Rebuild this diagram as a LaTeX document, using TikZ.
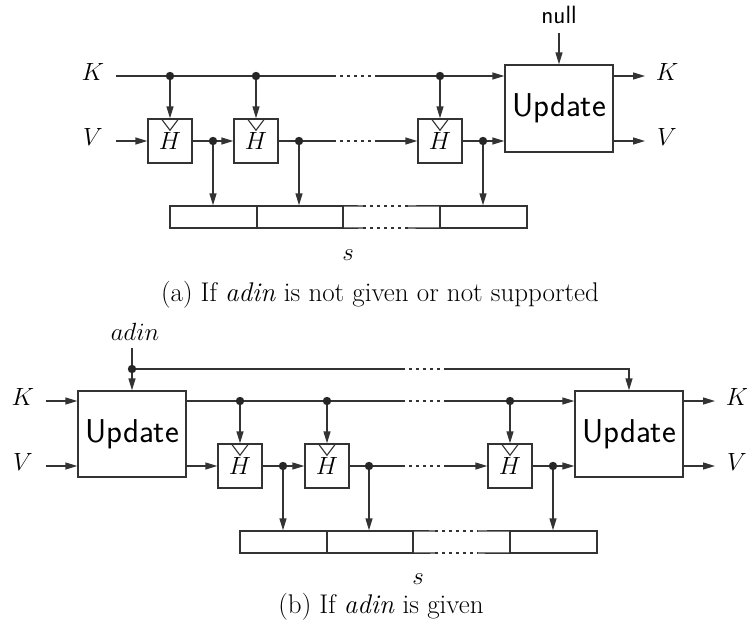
\documentclass[tikz,border=0pt]{standalone}
\usetikzlibrary{arrows.meta}
\begin{document}
\begin{tikzpicture}[x=1pt,y=-1pt,
  ln/.style={line width=1.4pt, draw=black!80},
  arr/.style={ln, -{Triangle[length=12pt,width=7pt]}},
  dsh/.style={ln, dash pattern=on 3pt off 4pt},
  hbox/.style={draw=black!80, line width=1.4pt, minimum width=44pt, minimum height=44pt, inner sep=0pt, font=\fontsize{27}{27}\selectfont},
  upd/.style={draw=black!80, line width=1.4pt, minimum width=108pt, minimum height=87pt, inner sep=0pt, font=\sffamily\fontsize{33}{33}\selectfont},
  cellbox/.style={draw=black!80, line width=1.4pt, minimum height=22pt, inner sep=0pt},
  cellopen/.style={minimum height=22pt, inner sep=0pt},
  lab/.style={font=\fontsize{25}{25}\selectfont, inner sep=0pt},
  slab/.style={font=\sffamily\fontsize{25}{25}\selectfont, inner sep=0pt},
  captext/.style={font=\fontsize{27}{27}\selectfont, inner sep=0pt},
  dotr/.style={fill=black!85}
]
\useasboundingbox (0,0) rectangle (747,629);

% ================= (a) =================
\node[lab] (Ka) at (93,72) {$K$};
\node[lab] (Va) at (93,137) {$V$};
\coordinate (Ka0) at (116,76);
\coordinate (Va0) at (116,141);
\node[hbox] (Ha1) at (170,141) {\raisebox{-3.5pt}{$H$}};
\node[hbox] (Ha2) at (256,141) {\raisebox{-3.5pt}{$H$}};
\node[hbox] (Ha3) at (440,141) {\raisebox{-3.5pt}{$H$}};
\node[upd] (Ua) at (559,108.5) {Update};
\node[slab] (nul) at (559,15) {null};
\coordinate (nul0) at (559,33);
\coordinate (ka1) at (170,76);
\coordinate (ka2) at (256,76);
\coordinate (ka3) at (440,76);
\coordinate (va1) at (213,141);
\coordinate (va2) at (299,141);
\coordinate (va3) at (483,141);
\coordinate (kda) at (333,76);
\coordinate (kdb) at (375,76);
\coordinate (vda) at (333,141);
\coordinate (vdb) at (375,141);
\coordinate (Koa) at (645,76);
\coordinate (Voa) at (645,141);
\node[lab] (Kouta) at (667,72) {$K$};
\node[lab] (Vouta) at (667,137) {$V$};
% storage s
\node[cellbox, minimum width=87pt] (Sa1) at (213.5,217) {};
\node[cellbox, minimum width=86pt] (Sa2) at (300,217) {};
\node[cellopen, minimum width=97pt] (Sa3) at (391.5,217) {};
\node[cellbox, minimum width=87pt] (Sa4) at (483.5,217) {};
\draw[ln] (Sa3.north west) -- (Sa3.south west);
\draw[ln] (Sa3.north east) -- (Sa3.south east);
\draw[ln] (Sa3.north west) -- (363,206);
\draw[dsh] (363,206) -- (408,206);
\draw[ln] (408,206) -- (Sa3.north east);
\draw[ln] (Sa3.south west) -- (363,228);
\draw[dsh] (363,228) -- (408,228);
\draw[ln] (408,228) -- (Sa3.south east);
\node[lab] (sa) at (348,255) {$s$};
\node[captext] (capa) at (380,295) {(a) If \textit{adin} is not given or not supported};

% connectors (a)
\draw[ln] (Ka0) -- (kda);
\draw[dsh] (kda) -- (kdb);
\draw[arr] (kdb) -- (Ua.west |- kdb);
\draw[arr] (ka1) -- (Ha1.north);
\draw[arr] (ka2) -- (Ha2.north);
\draw[arr] (ka3) -- (Ha3.north);
\draw[arr] (Va0) -- (Ha1.west);
\draw[ln] (Ha1.east) -- (va1);
\draw[arr] (va1) -- (Ha2.west);
\draw[ln] (Ha2.east) -- (vda);
\draw[dsh] (vda) -- (vdb);
\draw[arr] (vdb) -- (Ha3.west);
\draw[ln] (Ha3.east) -- (va3);
\draw[arr] (va3) -- (Ua.west |- va3);
\draw[arr] (va1) -- (va1 |- Sa1.north);
\draw[arr] (va2) -- (va2 |- Sa2.north);
\draw[arr] (va3) -- (va3 |- Sa4.north);
\draw[arr] (nul0) -- (Ua.north);
\draw[arr] (Ua.east |- Koa) -- (Koa);
\draw[arr] (Ua.east |- Voa) -- (Voa);
\foreach \h in {Ha1,Ha2,Ha3}{
  \draw[line width=1.1pt, draw=black!80] ([xshift=-9pt]\h.north) -- ([yshift=-12pt]\h.north) -- ([xshift=9pt]\h.north);
}
\foreach \d in {ka1,ka2,ka3,va1,va2,va3}{\fill[dotr] (\d) circle (4.2pt);}

% ================= (b) =================
\node[lab] (Kb) at (23,397) {$K$};
\node[lab] (Vb) at (23,462) {$V$};
\coordinate (Kb0) at (46,401);
\coordinate (Vb0) at (46,466);
\node[upd, minimum height=86pt] (Ub1) at (132,434) {Update};
\node[upd, minimum height=86pt] (Ub2) at (629,434) {Update};
\node[lab] (adin) at (135,332) {$adin$};
\coordinate (ad0) at (132,348);
\coordinate (add) at (132,369);
\coordinate (adda) at (402,369);
\coordinate (addb) at (445,369);
\coordinate (adc) at (629,369);
\node[hbox] (Hb1) at (240,466) {\raisebox{-3.5pt}{$H$}};
\node[hbox] (Hb2) at (327,466) {\raisebox{-3.5pt}{$H$}};
\node[hbox] (Hb3) at (510,466) {\raisebox{-3.5pt}{$H$}};
\coordinate (kb1) at (240,401);
\coordinate (kb2) at (327,401);
\coordinate (kb3) at (510,401);
\coordinate (vb1) at (283,466);
\coordinate (vb2) at (369,466);
\coordinate (vb3) at (553,466);
\coordinate (kdba) at (402,401);
\coordinate (kdbb) at (445,401);
\coordinate (vdba) at (402,466);
\coordinate (vdbb) at (445,466);
\coordinate (Kob) at (715,401);
\coordinate (Vob) at (715,466);
\node[lab] (Koutb) at (737,397) {$K$};
\node[lab] (Voutb) at (737,462) {$V$};
\node[cellbox, minimum width=87pt] (Sb1) at (283.5,542) {};
\node[cellbox, minimum width=86pt] (Sb2) at (370,542) {};
\node[cellopen, minimum width=97pt] (Sb3) at (461.5,542) {};
\node[cellbox, minimum width=87pt] (Sb4) at (553.5,542) {};
\draw[ln] (Sb3.north west) -- (Sb3.south west);
\draw[ln] (Sb3.north east) -- (Sb3.south east);
\draw[ln] (Sb3.north west) -- (435,531);
\draw[dsh] (435,531) -- (478,531);
\draw[ln] (478,531) -- (Sb3.north east);
\draw[ln] (Sb3.south west) -- (435,553);
\draw[dsh] (435,553) -- (478,553);
\draw[ln] (478,553) -- (Sb3.south east);
\node[lab] (sb) at (418,579) {$s$};
\node[captext] (capb) at (381,607) {(b) If \textit{adin} is given};

% connectors (b)
\draw[arr] (Kb0) -- (Ub1.west |- Kb0);
\draw[arr] (Vb0) -- (Ub1.west |- Vb0);
\draw[arr] (ad0) -- (Ub1.north);
\draw[ln] (add) -- (adda);
\draw[dsh] (adda) -- (addb);
\draw[arr] (addb) -- (adc) -- (Ub2.north);
\draw[ln] (Ub1.east |- kb1) -- (kdba);
\draw[dsh] (kdba) -- (kdbb);
\draw[arr] (kdbb) -- (Ub2.west |- kdbb);
\draw[arr] (kb1) -- (Hb1.north);
\draw[arr] (kb2) -- (Hb2.north);
\draw[arr] (kb3) -- (Hb3.north);
\draw[arr] (Ub1.east |- Hb1) -- (Hb1.west);
\draw[ln] (Hb1.east) -- (vb1);
\draw[arr] (vb1) -- (Hb2.west);
\draw[ln] (Hb2.east) -- (vdba);
\draw[dsh] (vdba) -- (vdbb);
\draw[arr] (vdbb) -- (Hb3.west);
\draw[ln] (Hb3.east) -- (vb3);
\draw[arr] (vb3) -- (Ub2.west |- vb3);
\draw[arr] (vb1) -- (vb1 |- Sb1.north);
\draw[arr] (vb2) -- (vb2 |- Sb2.north);
\draw[arr] (vb3) -- (vb3 |- Sb4.north);
\draw[arr] (Ub2.east |- Kob) -- (Kob);
\draw[arr] (Ub2.east |- Vob) -- (Vob);
\foreach \h in {Hb1,Hb2,Hb3}{
  \draw[line width=1.1pt, draw=black!80] ([xshift=-9pt]\h.north) -- ([yshift=-12pt]\h.north) -- ([xshift=9pt]\h.north);
}
\foreach \d in {add,kb1,kb2,kb3,vb1,vb2,vb3}{\fill[dotr] (\d) circle (4.2pt);}
\end{tikzpicture}
\end{document}
